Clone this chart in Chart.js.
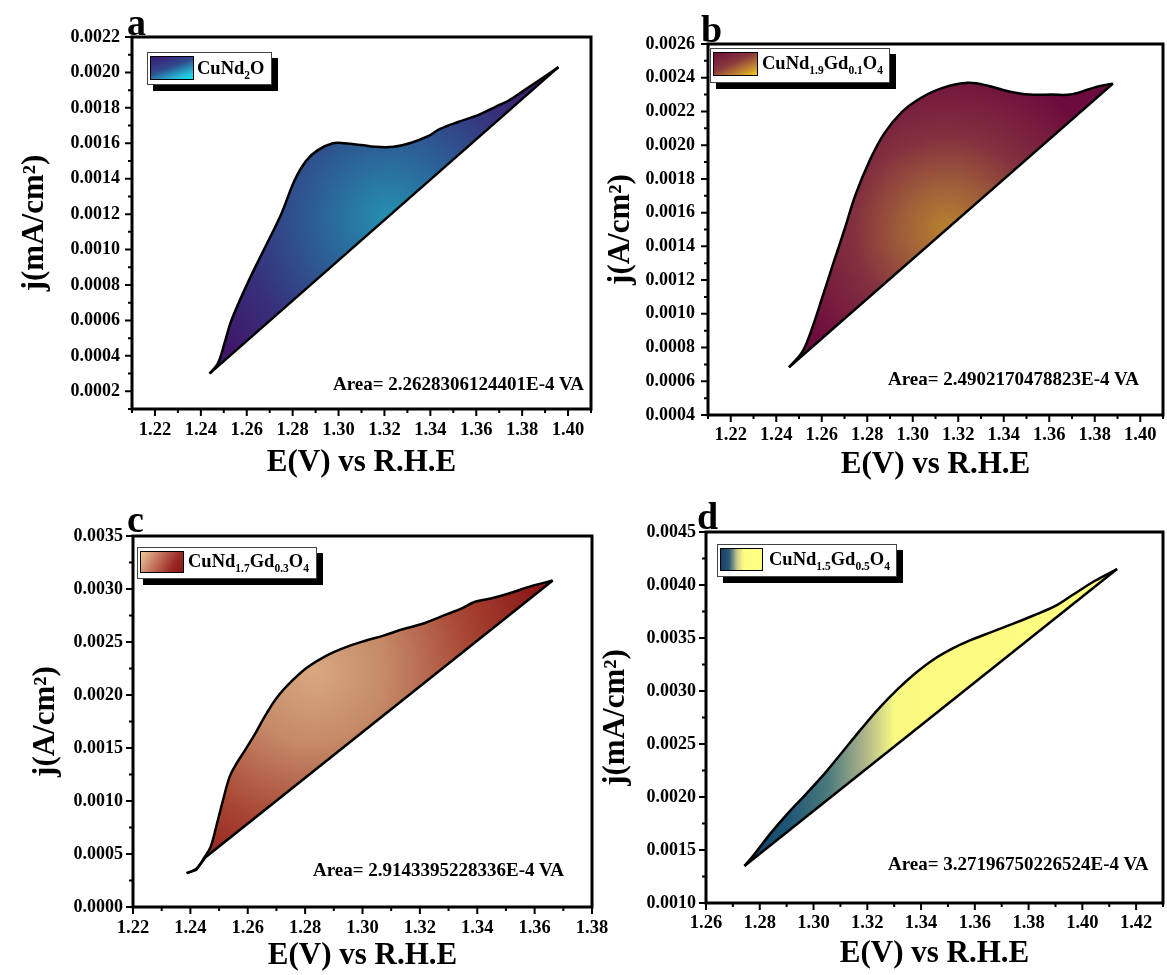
<!DOCTYPE html>
<html lang="en">
<head>
<meta charset="UTF-8">
<title>LSV area plots</title>
<script src="https://cdn.jsdelivr.net/npm/chart.js"></script>
<style>
  body { margin: 0; background: #fff; }
  #page { position: relative; width: 1167px; height: 975px; overflow: hidden;
          font-family: "Liberation Serif", "Times New Roman", serif; font-weight: bold; color: #000; }
  canvas { position: absolute; }
  .letter { position: absolute; font-size: 38px; line-height: 1; }
  .legend { position: absolute; background: #fff; border: 1px solid #444; box-shadow: 6px 6px 0 #000; }
  .legend .sw { position: absolute; left: 2px; border: 1px solid #000; }
  .legend .txt { position: absolute; font-size: 18.5px; line-height: 1; white-space: nowrap; }
  .legend sub { font-size: 11.5px; vertical-align: -5px; }
  .area { position: absolute; font-size: 19px; line-height: 1; white-space: nowrap; }
</style>
</head>
<body>
<div id="page">
  <canvas id="ca" width="600" height="490" style="left:0;top:0"></canvas>
  <canvas id="cb" width="572" height="490" style="left:595px;top:0"></canvas>
  <canvas id="cc" width="620" height="485" style="left:0;top:490px"></canvas>
  <canvas id="cd" width="572" height="485" style="left:595px;top:490px"></canvas>

  <div class="letter" style="left:127px;top:3px">a</div>
  <div class="letter" style="left:701px;top:10px">b</div>
  <div class="letter" style="left:127px;top:500px">c</div>
  <div class="letter" style="left:697px;top:497px">d</div>

  <div class="legend" style="left:147px;top:52px;width:123px;height:31px">
    <div class="sw" style="top:3px;width:42px;height:22px;background:linear-gradient(160deg,#3d1770 0%,#2f4a8c 45%,#22c8dc 85%,#10e8f0 100%)"></div>
    <div class="txt" style="left:49px;top:6px">CuNd<sub>2</sub>O</div>
  </div>
  <div class="legend" style="left:710px;top:48px;width:178px;height:33px">
    <div class="sw" style="top:3px;width:43px;height:22px;background:linear-gradient(155deg,#6e0f3e 0%,#8a3a3c 45%,#c8902e 80%,#f0d020 100%)"></div>
    <div class="txt" style="left:51px;top:5px">CuNd<sub>1.9</sub>Gd<sub>0.1</sub>O<sub>4</sub></div>
  </div>
  <div class="legend" style="left:137px;top:547px;width:178px;height:30px">
    <div class="sw" style="top:3px;width:42px;height:20px;background:linear-gradient(120deg,#ecc898 0%,#c0705a 40%,#9a2a24 75%,#8a1818 100%)"></div>
    <div class="txt" style="left:50px;top:4px">CuNd<sub>1.7</sub>Gd<sub>0.3</sub>O<sub>4</sub></div>
  </div>
  <div class="legend" style="left:717px;top:544px;width:178px;height:31px">
    <div class="sw" style="top:3px;width:41px;height:21px;background:linear-gradient(90deg,#143f66 0%,#2a5a78 20%,#cccc8c 40%,#fdfd84 55%,#ffff80 100%)"></div>
    <div class="txt" style="left:51px;top:5px">CuNd<sub>1.5</sub>Gd<sub>0.5</sub>O<sub>4</sub></div>
  </div>

  <div class="area" style="left:333px;top:374px">Area= 2.2628306124401E-4 VA</div>
  <div class="area" style="left:888px;top:369px">Area= 2.4902170478823E-4 VA</div>
  <div class="area" style="left:313px;top:860px">Area= 2.9143395228336E-4 VA</div>
  <div class="area" style="left:888px;top:854px">Area= 3.27196750226524E-4 VA</div>
</div>

<script>
// ---- panel a : CuNd2O ----
const aUpperE = [1.2438, 1.2475, 1.2505, 1.2533, 1.26, 1.2675, 1.275, 1.2808, 1.2858, 1.2908, 1.2975, 1.3025, 1.31, 1.3158, 1.324, 1.331, 1.339, 1.344, 1.352, 1.361, 1.369, 1.374, 1.381, 1.389, 1.3958];
const aUpperJ = [0.00030, 0.00036, 0.00048, 0.00060, 0.00080, 0.00100, 0.00120, 0.00139, 0.00150, 0.00156, 0.00160, 0.00160, 0.00159, 0.00158, 0.00158, 0.00160, 0.00164, 0.00168, 0.00172, 0.00176, 0.00181, 0.00184, 0.00190, 0.00197, 0.00203];
const aLowerE = [1.2438, 1.3958];
const aLowerJ = [0.00030, 0.00203];
const aXTicks = [1.22, 1.24, 1.26, 1.28, 1.30, 1.32, 1.34, 1.36, 1.38, 1.40];
const aYTicks = [0.0002, 0.0004, 0.0006, 0.0008, 0.0010, 0.0012, 0.0014, 0.0016, 0.0018, 0.0020, 0.0022];

// ---- panel b : CuNd1.9Gd0.1O4 ----
const bUpperE = [1.2456, 1.2515, 1.2555, 1.2603, 1.2651, 1.27, 1.2747, 1.2811, 1.2875, 1.2955, 1.3035, 1.3131, 1.3243, 1.3339, 1.3419, 1.3515, 1.3611, 1.3691, 1.3771, 1.3819, 1.388];
const bUpperJ = [0.000683, 0.000776, 0.000905, 0.0011, 0.0013, 0.0015, 0.0017, 0.00191, 0.00207, 0.0022, 0.00228, 0.00234, 0.00237, 0.00235, 0.00232, 0.0023, 0.0023, 0.0023, 0.00233, 0.00235, 0.002365];
const bLowerE = [1.2456, 1.388];
const bLowerJ = [0.000683, 0.002365];
const bXTicks = [1.22, 1.24, 1.26, 1.28, 1.30, 1.32, 1.34, 1.36, 1.38, 1.40];
const bYTicks = [0.0004, 0.0006, 0.0008, 0.0010, 0.0012, 0.0014, 0.0016, 0.0018, 0.0020, 0.0022, 0.0024, 0.0026];

// ---- panel c : CuNd1.7Gd0.3O4 ----
const cUpperE = [1.2387, 1.242, 1.2447, 1.2471, 1.2493, 1.2513, 1.2537, 1.256, 1.2593, 1.2627, 1.266, 1.27, 1.2753, 1.2807, 1.2873, 1.294, 1.3007, 1.3073, 1.314, 1.3207, 1.3273, 1.334, 1.3393, 1.3447, 1.3513, 1.358, 1.3663];
const cUpperJ = [0.00032, 0.00036, 0.00046, 0.00057, 0.00079, 0.0010, 0.00123, 0.00135, 0.00149, 0.00164, 0.0018, 0.00197, 0.00213, 0.00226, 0.00237, 0.00245, 0.00251, 0.00256, 0.00262, 0.00267, 0.00274, 0.00281, 0.00288, 0.00291, 0.00296, 0.00302, 0.00308];
const cLowerE = [1.2387, 1.242, 1.2453, 1.3663];
const cLowerJ = [0.00032, 0.00035, 0.00047, 0.00308];
const cXTicks = [1.22, 1.24, 1.26, 1.28, 1.30, 1.32, 1.34, 1.36, 1.38];
const cYTicks = [0.0000, 0.0005, 0.0010, 0.0015, 0.0020, 0.0025, 0.0030, 0.0035];

// ---- panel d : CuNd1.5Gd0.5O4 ----
const dUpperE = [1.2743, 1.2777, 1.2838, 1.2906, 1.2973, 1.3041, 1.3109, 1.3177, 1.3245, 1.3314, 1.338, 1.3448, 1.3516, 1.3584, 1.3666, 1.3748, 1.3816, 1.3898, 1.3966, 1.4047, 1.4129];
const dUpperJ = [0.00135, 0.00145, 0.00165, 0.00185, 0.00203, 0.00222, 0.00243, 0.00264, 0.00284, 0.00302, 0.00317, 0.0033, 0.0034, 0.00348, 0.00356, 0.00364, 0.00371, 0.0038, 0.00391, 0.00404, 0.00415];
const dLowerE = [1.2743, 1.4129];
const dLowerJ = [0.00135, 0.00415];
const dXTicks = [1.26, 1.28, 1.30, 1.32, 1.34, 1.36, 1.38, 1.40, 1.42];
const dYTicks = [0.0010, 0.0015, 0.0020, 0.0025, 0.0030, 0.0035, 0.0040, 0.0045];

const font = 'Liberation Serif';

function pts(xs, ys) {
    return xs.map((x, i) => ({ x: x, y: ys[i] }));
}

// all half steps between the majors that fall inside the axis range
function minorValues(ticks, min, max) {
    const step = ticks[1] - ticks[0];
    const out = [];
    for (let k = -2; k < ticks.length + 1; k++) {
        const v = ticks[0] + (k + 0.5) * step;
        if (v >= min - 1e-9 && v <= max + 1e-9) out.push(v);
    }
    return out;
}

// box frame + outward major/minor ticks on left and bottom axes
const framePlugin = {
    id: 'frame',
    afterDraw(chart) {
        const { ctx, chartArea: a, scales: { x, y } } = chart;
        const o = chart.options.plugins.frame;
        ctx.save();
        ctx.strokeStyle = '#000';
        ctx.lineWidth = 2;
        ctx.beginPath();
        o.xTicks.forEach(v => { const p = x.getPixelForValue(v); ctx.moveTo(p, a.bottom); ctx.lineTo(p, a.bottom + 7); });
        minorValues(o.xTicks, x.min, x.max).forEach(v => { const p = x.getPixelForValue(v); ctx.moveTo(p, a.bottom); ctx.lineTo(p, a.bottom + 4); });
        o.yTicks.forEach(v => { const p = y.getPixelForValue(v); ctx.moveTo(a.left, p); ctx.lineTo(a.left - 7, p); });
        minorValues(o.yTicks, y.min, y.max).forEach(v => { const p = y.getPixelForValue(v); ctx.moveTo(a.left, p); ctx.lineTo(a.left - 4, p); });
        ctx.stroke();
        ctx.lineWidth = 3;
        ctx.strokeRect(a.left, a.top, a.right - a.left, a.bottom - a.top);
        ctx.restore();
    }
};

function radialFill(cx, cy, r, stops) {
    return function (c) {
        const ch = c.chart;
        if (!ch.chartArea) return 'rgba(0,0,0,0)';
        const px = ch.scales.x.getPixelForValue(cx);
        const py = ch.scales.y.getPixelForValue(cy);
        const g = ch.ctx.createRadialGradient(px, py, 0, px, py, r);
        stops.forEach(s => g.addColorStop(s[0], s[1]));
        return g;
    };
}

function linearFillX(x0, x1, stops) {
    return function (c) {
        const ch = c.chart;
        if (!ch.chartArea) return 'rgba(0,0,0,0)';
        const g = ch.ctx.createLinearGradient(ch.scales.x.getPixelForValue(x0), 0, ch.scales.x.getPixelForValue(x1), 0);
        stops.forEach(s => g.addColorStop(s[0], s[1]));
        return g;
    };
}

function makePanel(id, p) {
    const canvas = document.getElementById(id);
    const W = canvas.width, H = canvas.height;
    return new Chart(canvas, {
        type: 'line',
        data: {
            datasets: [{
                data: p.lower,
                borderColor: '#000',
                borderWidth: 2.5,
                pointRadius: 0,
                tension: 0,
                fill: false
            }, {
                data: p.upper,
                borderColor: '#000',
                borderWidth: 2.5,
                pointRadius: 0,
                tension: 0.35,
                fill: '-1',
                backgroundColor: p.fill
            }]
        },
        options: {
            responsive: false,
            animation: false,
            devicePixelRatio: 1,
            layout: { padding: { left: 0, top: p.area.t, right: W - p.area.r, bottom: 0 } },
            plugins: {
                legend: { display: false },
                tooltip: { enabled: false },
                frame: { xTicks: p.xTicks, yTicks: p.yTicks }
            },
            scales: {
                x: {
                    type: 'linear',
                    min: p.xMin, max: p.xMax,
                    grid: { display: false, drawTicks: false },
                    border: { display: false },
                    afterBuildTicks: s => { s.ticks = p.xTicks.map(v => ({ value: v })); },
                    afterFit: s => { s.height = H - p.area.b; s.paddingLeft = 0; s.paddingRight = 0; },
                    ticks: {
                        autoSkip: false, maxRotation: 0, padding: p.xPad, color: '#000',
                        font: { family: font, weight: 'bold', size: 18.5 },
                        callback: v => Number(v).toFixed(2)
                    },
                    title: {
                        display: true, text: 'E(V) vs R.H.E', color: '#000',
                        font: { family: font, weight: 'bold', size: 31 },
                        padding: { top: 0, bottom: p.xTitlePad }
                    }
                },
                y: {
                    type: 'linear',
                    min: p.yMin, max: p.yMax,
                    grid: { display: false, drawTicks: false },
                    border: { display: false },
                    afterBuildTicks: s => { s.ticks = p.yTicks.map(v => ({ value: v })); },
                    afterFit: s => { s.width = p.area.l; s.paddingTop = 0; s.paddingBottom = 0; },
                    ticks: {
                        autoSkip: false, padding: p.yPad, color: '#000',
                        font: { family: font, weight: 'bold', size: 18 },
                        callback: v => Number(v).toFixed(4)
                    },
                    title: {
                        display: true, text: p.yTitle, color: '#000',
                        font: { family: font, weight: 'bold', size: 31 },
                        padding: { top: p.yTitlePad, bottom: 0 }
                    }
                }
            }
        },
        plugins: [framePlugin]
    });
}

makePanel('ca', {
    upper: pts(aUpperE, aUpperJ), lower: pts(aLowerE, aLowerJ),
    xMin: 1.21, xMax: 1.41, yMin: 0.0001, yMax: 0.0022,
    xTicks: aXTicks, yTicks: aYTicks,
    area: { l: 132, t: 37, r: 591, b: 409 },
    xPad: 10, yPad: 12, xTitlePad: 8, yTitlePad: 16,
    yTitle: 'j(mA/cm²)',
    fill: radialFill(1.322, 0.00118, 210, [[0, '#2590b0'], [0.35, '#2c5f96'], [0.7, '#37307a'], [1, '#40166a']])
});

makePanel('cb', {
    upper: pts(bUpperE, bUpperJ), lower: pts(bLowerE, bLowerJ),
    xMin: 1.21, xMax: 1.41, yMin: 0.0004, yMax: 0.0026,
    xTicks: bXTicks, yTicks: bYTicks,
    area: { l: 113, t: 44, r: 568, b: 415 },
    xPad: 9, yPad: 13, xTitlePad: 6, yTitlePad: 7,
    yTitle: 'j(A/cm²)',
    fill: radialFill(1.315, 0.00150, 170, [[0, '#b8822f'], [0.25, '#a0603a'], [0.55, '#83303f'], [1, '#6c0b3d']])
});

makePanel('cc', {
    upper: pts(cUpperE, cUpperJ), lower: pts(cLowerE, cLowerJ),
    xMin: 1.22, xMax: 1.38, yMin: 0, yMax: 0.0035,
    xTicks: cXTicks, yTicks: cYTicks,
    area: { l: 133, t: 46, r: 592, b: 417 },
    xPad: 10, yPad: 10, xTitlePad: 0, yTitlePad: 27,
    yTitle: 'j(A/cm²)',
    fill: radialFill(1.283, 0.00222, 240, [[0, '#d8a880'], [0.3, '#c58a68'], [0.65, '#a84634'], [1, '#8a1616']])
});

makePanel('cd', {
    upper: pts(dUpperE, dUpperJ), lower: pts(dLowerE, dLowerJ),
    xMin: 1.26, xMax: 1.43, yMin: 0.001, yMax: 0.0045,
    xTicks: dXTicks, yTicks: dYTicks,
    area: { l: 111, t: 42, r: 568, b: 413 },
    xPad: 9, yPad: 10, xTitlePad: 2, yTitlePad: 2,
    yTitle: 'j(mA/cm²)',
    fill: linearFillX(1.2743, 1.4129, [[0, '#123f66'], [0.115, '#1d5575'], [0.223, '#4a7a7c'], [0.317, '#a8b08a'], [0.403, '#fafa82'], [1, '#ffff80']])
});
</script>
</body>
</html>
